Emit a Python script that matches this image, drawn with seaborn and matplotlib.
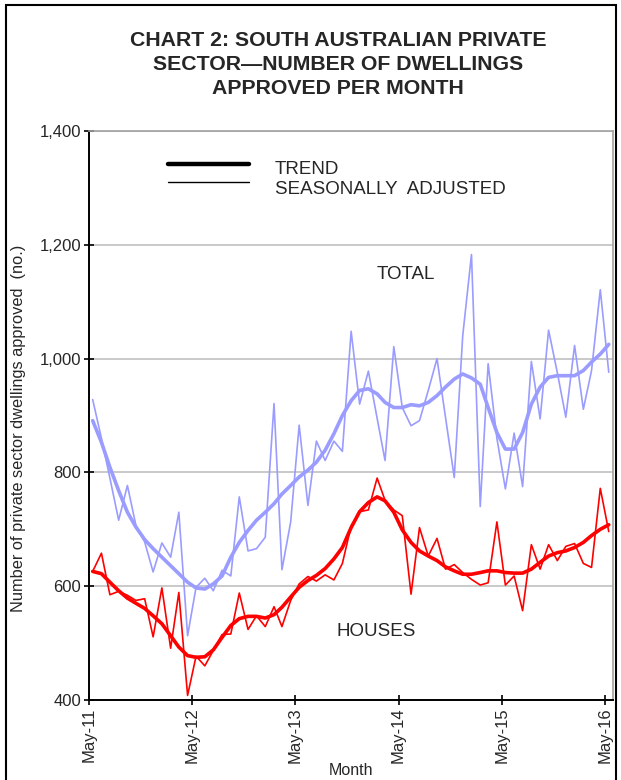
import matplotlib
matplotlib.use("Agg")
import matplotlib.pyplot as plt
import matplotlib.dates as mdates
from matplotlib.lines import Line2D
from matplotlib.patches import Rectangle
from matplotlib.ticker import FuncFormatter, MultipleLocator
import seaborn as sns
import pandas as pd

# monthly observations, May-11 to May-16
months = pd.date_range("2011-05-01", "2016-05-01", freq="MS") + pd.Timedelta(days=13)

total_sa = [928, 860, 790, 716, 777, 707, 678, 625, 676, 651, 730, 513,
            598, 614, 592, 628, 618, 757, 662, 666, 686, 921, 629, 713,
            883, 742, 855, 821, 855, 837, 1048, 920, 978, 895, 821, 1021,
            914, 882, 891, 944, 1000, 897, 791, 1040, 1183, 740, 991, 860,
            771, 869, 775, 995, 894, 1050, 975, 897, 1023, 911, 979, 1121,
            976]
total_trend = [891, 853, 809, 768, 730, 704, 682, 666, 651, 636, 622, 607,
               597, 595, 604, 618, 651, 677, 698, 716, 730, 745, 762, 777,
               792, 804, 818, 839, 868, 900, 926, 944, 947, 938, 923, 914,
               914, 919, 917, 923, 935, 950, 964, 973, 966, 955, 914, 870,
               841, 841, 870, 920, 950, 967, 970, 970, 970, 979, 994, 1008,
               1025]
houses_sa = [626, 658, 585, 591, 584, 575, 578, 511, 597, 491, 589, 408,
             477, 460, 487, 515, 516, 588, 524, 548, 529, 564, 529, 575,
             604, 617, 609, 620, 611, 640, 706, 731, 734, 790, 751, 734,
             724, 586, 703, 653, 684, 630, 638, 624, 612, 602, 606, 713,
             602, 618, 557, 673, 630, 673, 645, 670, 675, 640, 633, 772,
             696]
houses_trend = [626, 622, 607, 592, 579, 570, 561, 548, 534, 513, 493, 478,
                475, 476, 488, 510, 531, 543, 547, 547, 544, 550, 563, 581,
                598, 610, 619, 631, 648, 668, 703, 731, 747, 757, 750, 730,
                699, 677, 662, 653, 645, 634, 627, 621, 621, 624, 627, 627,
                624, 623, 623, 630, 642, 653, 659, 662, 668, 677, 689, 700,
                708]

df = pd.DataFrame({"month": months, "total_sa": total_sa, "total_trend": total_trend,
                   "houses_sa": houses_sa, "houses_trend": houses_trend})

sns.set_style("white")
plt.rcParams["font.family"] = ["Liberation Sans", "DejaVu Sans"]

lav = "#9a9cff"
red = "#ff0000"

fig = plt.figure(figsize=(6.21, 7.80), dpi=100)
ax = fig.add_axes([89 / 621, 1 - 700 / 780, (613 - 89) / 621, (700 - 131) / 780])

sns.lineplot(data=df, x="month", y="total_sa", color=lav, linewidth=1.2, ax=ax)
sns.lineplot(data=df, x="month", y="total_trend", color=lav, linewidth=2.6, ax=ax)
sns.lineplot(data=df, x="month", y="houses_sa", color=red, linewidth=1.2, ax=ax)
sns.lineplot(data=df, x="month", y="houses_trend", color=red, linewidth=2.6, ax=ax)

ax.set_ylim(400, 1400)
ax.set_xlim(pd.Timestamp("2011-05-01"), pd.Timestamp("2016-05-29"))
ax.yaxis.set_major_locator(MultipleLocator(200))
ax.yaxis.set_major_formatter(FuncFormatter(lambda v, p: f"{int(v):,}"))
ax.xaxis.set_major_locator(mdates.MonthLocator(bymonth=5))
ax.xaxis.set_major_formatter(mdates.DateFormatter("%b-%y"))
plt.setp(ax.get_xticklabels(), rotation=90)

ax.grid(axis="y", color="#c0c0c0", linewidth=1.2)
ax.set_axisbelow(True)
for s in ["left", "bottom"]:
    ax.spines[s].set_color("black")
    ax.spines[s].set_linewidth(1.4)
for s in ["top", "right"]:
    ax.spines[s].set_color("#a0a0a0")
    ax.spines[s].set_linewidth(1.2)
ax.tick_params(axis="both", direction="inout", length=7, width=1.2, color="black",
               labelsize=12, pad=2)
ax.tick_params(axis="y", left=True)
ax.tick_params(axis="x", bottom=True)

ax.set_ylabel("Number of private sector dwellings approved  (no.)", fontsize=11.8)
ax.yaxis.set_label_coords(-0.12, 0.478)
ax.set_xlabel("Month", fontsize=11.5, labelpad=0)

# labels inside the plot
ax.text(0.605, 0.747, "TOTAL", transform=ax.transAxes, ha="center", va="center", fontsize=13.5)
ax.text(0.548, 0.12, "HOUSES", transform=ax.transAxes, ha="center", va="center", fontsize=13.5)

# legend
fig.add_artist(Line2D([168 / 621, 249 / 621], [1 - 164 / 780] * 2, color="black", linewidth=3.2))
fig.add_artist(Line2D([168 / 621, 249 / 621], [1 - 182 / 780] * 2, color="black", linewidth=1.0))
fig.text(275 / 621, 1 - 170 / 780, "TREND", ha="left", va="center", fontsize=13.5)
fig.text(275 / 621, 1 - 190 / 780, "SEASONALLY  ADJUSTED", ha="left", va="center", fontsize=13.5)

# title
for k, line in enumerate(["CHART 2: SOUTH AUSTRALIAN PRIVATE",
                          "SECTOR\u2014NUMBER OF DWELLINGS",
                          "APPROVED PER MONTH"]):
    fig.text(338 / 621, 1 - (40 + 24.5 * k) / 780, line, ha="center", va="center",
             fontsize=15.3, fontweight="bold")

# outer frame
fig.add_artist(Rectangle((6 / 621, -0.02), 610 / 621, 1.0136, transform=fig.transFigure,
                         fill=False, edgecolor="black", linewidth=1.5))

fig.savefig("out.png", dpi=100)
